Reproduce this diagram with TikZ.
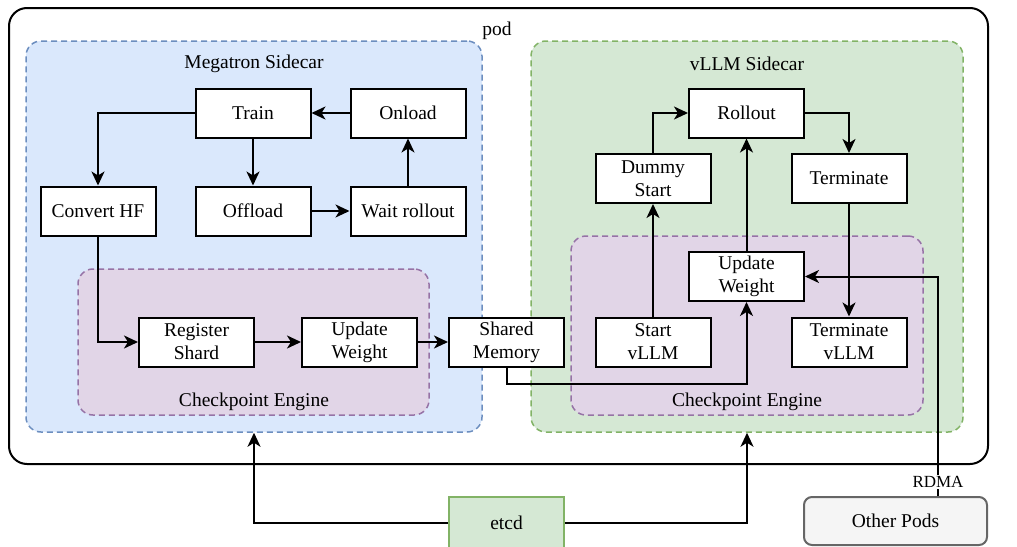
\documentclass[tikz,border=0pt]{standalone}
\usepackage{fontspec}
\setmainfont{Liberation Serif}
\usepackage{tikz}
\usetikzlibrary{arrows.meta, positioning}

\definecolor{megaFill}{HTML}{DAE8FC}
\definecolor{megaLine}{HTML}{6C8EBF}
\definecolor{vllmFill}{HTML}{D5E8D4}
\definecolor{vllmLine}{HTML}{82B366}
\definecolor{ckptFill}{HTML}{E1D5E7}
\definecolor{ckptLine}{HTML}{9673A6}
\definecolor{podsFill}{HTML}{F5F5F5}
\definecolor{podsLine}{HTML}{666666}

\begin{document}
\begin{tikzpicture}[x=1pt, y=-1pt, font=\fontsize{19.5}{23}\selectfont]
        % Setup the styles
        \tikzset{box style/.style={draw,
                                   fill=white,
                                   line width=2pt,
                                   minimum width=115pt,
                                   minimum height=49pt,
                                   inner sep=0pt,
                                   align=center},
                 group style/.style={rounded corners=15pt,
                                     dash pattern=on 6pt off 4pt,
                                     line width=1.5pt,
                                     inner sep=0pt},
                 flow/.style={line width=2pt,
                              -{Stealth[length=14pt, width=13pt, inset=4pt]}}}
        \useasboundingbox (0,0) rectangle (1017,546);

        % Draw the groups
        \node[draw, line width=2pt, rounded corners=18pt,
              minimum width=979pt, minimum height=456pt] at (498.5, 236)   (pod)      {};
        \node[group style, draw=megaLine, fill=megaFill,
              minimum width=456pt, minimum height=391pt] at (254, 236.5)   (megatron) {};
        \node[group style, draw=vllmLine, fill=vllmFill,
              minimum width=432pt, minimum height=391pt] at (747, 236.5)   (vllm)     {};
        \node[group style, draw=ckptLine, fill=ckptFill,
              minimum width=351pt, minimum height=146pt] at (253.5, 342)   (ckptL)    {};
        \node[group style, draw=ckptLine, fill=ckptFill,
              minimum width=352pt, minimum height=179pt] at (747, 325.5)   (ckptR)    {};

        \node at (497, 31)  (podLabel)   {pod};
        \node at (254, 64)  (megaLabel)  {Megatron Sidecar};
        \node at (747, 64)  (vllmLabel)  {vLLM Sidecar};
        \node at (254, 402) (ckptLLabel) {Checkpoint Engine};
        \node at (747, 402) (ckptRLabel) {Checkpoint Engine};

        % Draw the states
        \node[box style] at (253, 113)   (train)     {Train};
        \node[box style] at (408, 113)   (onload)    {Onload};
        \node[box style] at (98, 211)    (convert)   {Convert HF};
        \node[box style] at (253, 211)   (offload)   {Offload};
        \node[box style] at (408, 211)   (wait)      {Wait rollout};
        \node[box style] at (196.5, 342) (register)  {Register\\Shard};
        \node[box style] at (359.5, 342) (updateL)   {Update\\Weight};
        \node[box style] at (506.5, 342) (shared)    {Shared\\Memory};

        \node[box style] at (746.5, 113) (rollout)   {Rollout};
        \node[box style] at (653, 178.5) (dummy)     {Dummy\\Start};
        \node[box style] at (849, 178.5) (terminate) {Terminate};
        \node[box style] at (746.5, 276.5) (updateR) {Update\\Weight};
        \node[box style] at (653, 342)   (start)     {Start\\vLLM};
        \node[box style] at (849, 342)   (termvllm)  {Terminate\\vLLM};

        \node[box style, draw=vllmLine, fill=vllmFill,
              minimum height=52pt] at (506.5, 523) (etcd) {etcd};
        \node[box style, draw=podsLine, fill=podsFill, rounded corners=8pt,
              minimum width=183pt, minimum height=48pt] at (895.5, 521) (others) {Other Pods};

        % Connect the states with arrows
        \draw[flow] (onload)          -- (train);
        \draw[flow] (train)           -- (offload);
        \draw[flow] (offload)         -- (wait);
        \draw[flow] (wait)            -- (onload);
        \draw[flow] (train.west)      -| (convert.north);
        \draw[flow] (convert.south)   |- (register.west);
        \draw[flow] (register)        -- (updateL);
        \draw[flow] (updateL)         -- (shared);
        \draw[flow] (shared.south)    -- ++(0, 16) -| (updateR.south);

        \draw[flow] (start)           -- (dummy);
        \draw[flow] (dummy.north)     |- (rollout.west);
        \draw[flow] (updateR)         -- (rollout);
        \draw[flow] (rollout.east)    -| (terminate.north);
        \draw[flow] (terminate)       -- (termvllm);
        \draw[flow] ([xshift=42.5pt]others.north) -- ++(0, -14)
            node[fill=white, inner sep=1pt, font=\fontsize{17}{20}\selectfont] (rdma) {RDMA}
            |- (updateR.east);

        \draw[flow] (etcd.west)       -| (megatron.south);
        \draw[flow] (etcd.east)       -| (vllm.south);
\end{tikzpicture}
\end{document}
